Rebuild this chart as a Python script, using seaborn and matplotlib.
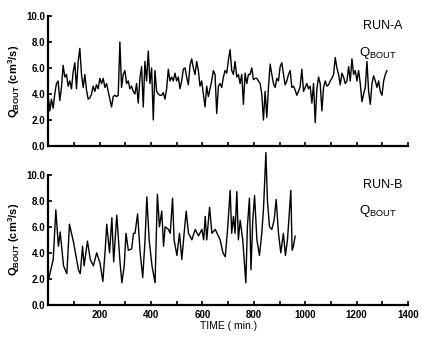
import numpy as np
import pandas as pd
import seaborn as sns
import matplotlib.pyplot as plt

# RUN-A at a regular spacing (0 .. ~1318 min)
q_a = [3.9, 2.7, 3.6, 2.9,
       4.0, 4.8, 5.0, 3.5, 4.5, 6.2, 5.3, 5.5, 4.6, 5.0, 4.4, 5.7, 6.4, 4.4, 6.5, 7.5,
       5.5, 4.5, 5.5, 4.3, 3.6, 3.7, 4.0, 4.6, 4.2, 4.7, 4.4, 5.2, 4.8, 5.2, 4.5, 4.8,
       4.2, 3.6, 3.0, 3.8, 3.9, 3.8, 3.9, 8.0, 4.5, 5.5, 5.8, 4.8, 5.0, 4.4, 4.6, 4.2,
       4.0, 4.8, 3.3, 5.2, 6.1, 3.0, 6.5, 5.0, 7.3, 4.8, 6.0, 2.0, 5.8, 4.2, 4.0, 3.9,
       3.9, 4.1, 3.6, 4.4, 5.9, 5.0, 5.3, 5.0, 5.6, 5.0, 5.3, 4.4, 5.0, 5.9, 6.0, 5.3,
       4.7, 6.2, 6.7, 6.0, 5.5, 6.5, 5.8, 4.6, 5.0, 4.0, 3.0, 4.6, 3.8, 4.4, 5.0, 5.8,
       5.5, 2.5, 4.6, 4.8, 4.5, 5.3, 5.8, 5.6, 6.6, 7.4, 5.8, 5.5, 6.5, 5.3, 5.5, 4.8,
       5.5, 3.2, 5.6, 4.8, 5.5, 5.5, 6.0, 5.1, 5.2, 5.2, 5.0, 4.8, 4.0, 2.0, 4.2, 2.2,
       4.5, 6.3, 5.5, 4.8, 4.5, 5.2, 5.0, 6.1, 6.4, 5.5, 4.7, 5.0, 5.5, 5.8, 4.5, 4.6,
       4.3, 3.9, 4.2, 4.6, 5.9, 4.2, 4.5, 4.8, 4.4, 4.6, 3.3, 4.8, 1.8, 4.4, 5.3, 4.8,
       2.7, 4.5, 5.0, 4.6, 4.7, 5.0, 5.2, 5.5, 6.8, 6.0, 5.5, 4.7, 5.6, 5.3, 4.8, 5.0,
       6.1, 5.0, 6.7, 5.5, 5.8, 5.0, 5.8, 4.8, 3.4, 4.0, 4.5, 6.5, 4.2, 3.2, 4.8, 5.4,
       5.0, 4.5, 5.0, 4.2, 3.9, 5.0, 5.5, 5.8]
time_a = np.linspace(0, 1318, len(q_a))

# RUN-B, times and values
time_b = [0, 8, 20, 30, 40, 47, 60, 73, 83, 99,
          118, 125, 134, 140, 153, 164, 176, 189, 202, 213,
          222, 228, 239, 248, 255, 267, 280, 287, 296, 303,
          312, 325, 332, 338, 348, 358, 368, 377, 384, 393,
          404, 416, 425, 433, 442, 449, 455, 468, 475, 484,
          490, 501, 511, 520, 529, 537, 546, 559, 572, 585,
          598, 605, 611, 617, 628, 637, 650, 669, 680, 689,
          698, 708, 714, 721, 727, 734, 740, 747, 757, 769,
          775, 783, 789, 796, 803, 812, 822, 831, 838, 847,
          853, 861, 870, 879, 887, 896, 905, 915, 923, 931,
          944, 949, 954, 961]
q_b = [1.8, 2.5, 3.5, 7.3, 4.5, 5.6, 3.0, 2.4, 6.2, 4.8,
       2.7, 2.4, 4.5, 3.0, 4.9, 3.5, 3.0, 4.0, 3.2, 1.8,
       4.2, 6.2, 4.0, 6.7, 3.3, 6.9, 3.2, 1.7, 3.0, 5.5,
       4.2, 4.3, 5.5, 5.5, 7.0, 4.0, 2.1, 5.0, 8.3, 5.0,
       3.0, 1.7, 8.5, 6.0, 7.2, 4.5, 6.0, 5.8, 5.5, 8.2,
       5.0, 3.8, 5.5, 3.5, 5.5, 7.2, 5.5, 5.0, 5.8, 5.3,
       5.8, 5.0, 6.8, 5.0, 7.5, 5.5, 5.8, 5.0, 4.0, 3.7,
       5.8, 8.8, 5.5, 6.8, 5.5, 8.7, 5.0, 6.5, 5.0, 1.7,
       6.0, 8.2, 2.7, 6.5, 8.4, 5.0, 3.8, 5.5, 7.5, 11.7,
       8.0, 6.0, 5.8, 6.5, 8.1, 5.5, 4.0, 5.5, 3.8, 5.0,
       8.8, 4.2, 4.5, 5.3]

yticks = [0, 2, 4, 6, 8, 10]
xticks = [200, 400, 600, 800, 1000, 1200, 1400]

sns.set_style("ticks", {"axes.edgecolor": "black", "text.color": "black",
                        "axes.labelcolor": "black", "xtick.color": "black",
                        "ytick.color": "black"})
plt.rcParams['font.family'] = ['Liberation Sans', 'DejaVu Sans']

fig = plt.figure(figsize=(4.22, 3.38), dpi=100)
ax_a = fig.add_axes([0.114, 0.568, 0.853, 0.385])
ax_b = fig.add_axes([0.114, 0.098, 0.853, 0.385])

runs = [(ax_a, time_a, q_a, "RUN-A"), (ax_b, time_b, q_b, "RUN-B")]
for ax, t, q, name in runs:
    df = pd.DataFrame({"time": t, "q": q})
    sns.lineplot(data=df, x="time", y="q", ax=ax, color="black", lw=1.0,
                 estimator=None, sort=False)
    for line in ax.lines:
        line.set_clip_on(False)
    ax.set_xlim(0, 1400)
    ax.set_ylim(0, 10)
    ax.set_yticks(yticks)
    ax.set_yticklabels([f"{v:.1f}" for v in yticks], fontsize=7, fontweight="bold")
    ax.set_xticks(np.arange(100, 1401, 100), minor=True)
    ax.tick_params(axis="both", which="both", direction="in", length=3, width=1.2)
    ax.tick_params(axis="y", pad=2)
    sns.despine(ax=ax)
    for s in ["left", "bottom"]:
        ax.spines[s].set_linewidth(1.6)
    ax.set_ylabel(r"Q$_\mathregular{BOUT}$ (cm$^\mathregular{3}$/s)", fontsize=8,
                  fontweight="bold", labelpad=3)
    ax.text(0.985, 0.97, name, transform=ax.transAxes, ha="right", va="top",
            fontsize=9)
    ax.text(0.97, 0.78, r"Q$_\mathregular{BOUT}$", transform=ax.transAxes,
            ha="right", va="top", fontsize=9.5)

ax_a.set_xticks(xticks)
ax_a.set_xticklabels([])
ax_a.set_xlabel("")
ax_b.set_xticks(xticks)
ax_b.set_xticklabels([str(v) for v in xticks], fontsize=7, fontweight="bold")
ax_b.set_xlabel("TIME ( min.)", fontsize=7.5, labelpad=1)

fig.savefig("out.png", dpi=100)
